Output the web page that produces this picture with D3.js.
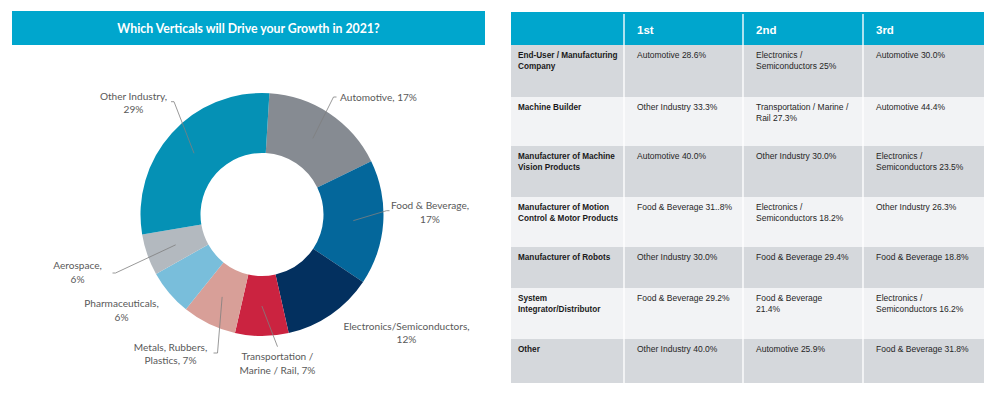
<!DOCTYPE html>
<html>
<head>
<meta charset="utf-8">
<script src="https://cdn.jsdelivr.net/npm/d3@7"></script>
<style>
	body { margin: 0; background: #fff; }
	svg { display: block; }
	.slice-label { font-family: Lato, sans-serif; font-size: 10.1px; fill: #595959; }
	.cell { font-family: 'Liberation Sans', Arial, sans-serif; font-size: 8.5px; fill: #262626; }
	.cell.first { font-weight: bold; font-size: 8.2px; fill: #1a1a1a; }
	.head { font-family: 'Liberation Sans', Arial, sans-serif; font-size: 11.5px; font-weight: bold; fill: #fff; }
</style>
</head>
<body>
<div id="graphic"></div>
<script>
// donut data (clockwise from the top)
const sliceNames = ['Automotive', 'Food & Beverage', 'Electronics/Semiconductors', 'Transportation /|Marine / Rail',
	'Metals, Rubbers,|Plastics', 'Pharmaceuticals', 'Aerospace', 'Other Industry'];
const sliceValues = [16.8, 16.6, 12.1, 7.1, 7.2, 6.1, 5.5, 28.6];
const sliceColours = ['#868b92', '#04679b', '#03305f', '#cb2340', '#d89f98', '#79bedb', '#b3b9bf', '#0591b5'];

// table data
const tableHeaders = ['', '1st', '2nd', '3rd'];
const rowNames = ['End-User / Manufacturing|Company', 'Machine Builder', 'Manufacturer of Machine|Vision Products',
	'Manufacturer of Motion|Control & Motor Products', 'Manufacturer of Robots', 'System|Integrator/Distributor', 'Other'];
const firstChoice = ['Automotive 28.6%', 'Other Industry 33.3%', 'Automotive 40.0%', 'Food & Beverage 31..8%',
	'Other Industry 30.0%', 'Food & Beverage 29.2%', 'Other Industry 40.0%'];
const secondChoice = ['Electronics /|Semiconductors 25%', 'Transportation / Marine /|Rail 27.3%', 'Other Industry 30.0%',
	'Electronics /|Semiconductors 18.2%', 'Food & Beverage 29.4%', 'Food & Beverage|21.4%', 'Automotive 25.9%'];
const thirdChoice = ['Automotive 30.0%', 'Automotive 44.4%', 'Electronics /|Semiconductors 23.5%', 'Other Industry 26.3%',
	'Food & Beverage 18.8%', 'Electronics /|Semiconductors 16.2%', 'Food & Beverage 31.8%'];

// layout
const width = 1000, height = 398;
const centre = { x: 262, y: 214.5 };
const outerR = 121.5, innerR = 61.5;
const firstAngle = 3.5 * Math.PI / 180;
const pctOnNewLine = [false, true, true, false, false, true, true, true];
// label block centre and leader end, relative to donut centre
const labelOffsets = [[116.5, -117.5], [168, -2], [144.5, 118.5], [15.5, 149], [-91.5, 139.5], [-140.5, 96], [-184.5, 58], [-128.5, -111.8]];
const leaderEnds = [[71.5, -117.5, 3], [124.5, -3.8, 3], null, [15.5, 132.2, 0], [-44.5, 138.5, -4], null, [-146.5, 58.5, -3], [-88, -112.8, -3]];
const colEdges = [511, 624, 743, 863, 984];
const headTop = 12, headHeight = 33;
const rowHeights = [52, 49, 51, 50, 41, 51, 44];

const svg = d3.select('#graphic')
	.append('svg')
	.attr('width', width)
	.attr('height', height);

// ---- title bar
svg.append('rect')
	.attr('x', 12).attr('y', 11)
	.attr('width', 473).attr('height', 34)
	.attr('fill', '#00a6cd');

svg.append('text')
	.attr('x', 248.5).attr('y', 32.5)
	.attr('text-anchor', 'middle')
	.attr('fill', '#fff')
	.style('font-family', 'Lato, sans-serif')
	.style('font-size', '12.3px')
	.style('font-weight', 'bold')
	.text('Which Verticals will Drive your Growth in 2021?');

// ---- donut
const pie = d3.pie()
	.sort(null)
	.value(d => d)
	.startAngle(firstAngle)
	.endAngle(firstAngle + 2 * Math.PI);

const arc = d3.arc().innerRadius(innerR).outerRadius(outerR);
const midArc = d3.arc().innerRadius((innerR + outerR) / 2).outerRadius((innerR + outerR) / 2);

const donut = svg.append('g')
	.attr('transform', 'translate(' + centre.x + ',' + centre.y + ')');

const arcs = pie(sliceValues);

donut.selectAll('path.slice')
	.data(arcs)
	.join('path')
	.attr('class', 'slice')
	.attr('d', arc)
	.attr('fill', (d, i) => sliceColours[i]);

// leader lines
donut.selectAll('path.leader')
	.data(arcs.filter((d, i) => leaderEnds[i]))
	.join('path')
	.attr('class', 'leader')
	.attr('fill', 'none')
	.attr('stroke', '#7f7f7f')
	.attr('stroke-width', 0.8)
	.attr('d', d => {
		let e = leaderEnds[d.index];
		let c = midArc.centroid(d);
		return 'M' + c[0] + ',' + c[1] + 'L' + e[0] + ',' + e[1] + 'l' + e[2] + ',0';
	});

// labels
donut.selectAll('text.slice-label')
	.data(arcs)
	.join('text')
	.attr('class', 'slice-label')
	.attr('text-anchor', 'middle')
	.each(function (d, i) {
		let pct = Math.round(d.value) + '%';
		let label = sliceNames[i] + ',' + (pctOnNewLine[i] ? '|' : ' ') + pct;
		let lines = label.split('|');
		let off = labelOffsets[i];
		let t = d3.select(this);
		lines.forEach((l, j) => {
			t.append('tspan')
				.attr('x', off[0])
				.attr('y', off[1] + 3.6 + (j - (lines.length - 1) / 2) * 13.3)
				.text(l);
		});
	});

// ---- table
const rowTops = [headTop + headHeight];
rowHeights.forEach((h, i) => rowTops.push(rowTops[i] + h));

const table = svg.append('g').attr('class', 'table');

table.append('rect')
	.attr('x', colEdges[0]).attr('y', headTop)
	.attr('width', colEdges[4] - colEdges[0]).attr('height', headHeight)
	.attr('fill', '#00a6cd');

table.selectAll('rect.row')
	.data(rowHeights)
	.join('rect')
	.attr('class', 'row')
	.attr('x', colEdges[0])
	.attr('y', (d, i) => rowTops[i])
	.attr('width', colEdges[4] - colEdges[0])
	.attr('height', d => d)
	.attr('fill', (d, i) => i % 2 == 0 ? '#d5d8dc' : '#f2f3f5');

// column separators
table.selectAll('line.sep')
	.data(colEdges.slice(1, 4))
	.join('line')
	.attr('class', 'sep')
	.attr('x1', d => d).attr('x2', d => d)
	.attr('y1', headTop + 2).attr('y2', rowTops[rowTops.length - 1])
	.attr('stroke', '#fff')
	.attr('stroke-opacity', 0.85)
	.attr('stroke-width', 1.6);

table.selectAll('text.head')
	.data(tableHeaders)
	.join('text')
	.attr('class', 'head')
	.attr('x', (d, i) => colEdges[i] + 13)
	.attr('y', headTop + 21.5)
	.text(d => d);

const columns = [rowNames, firstChoice, secondChoice, thirdChoice];
columns.forEach((col, c) => {
	table.selectAll('text.col' + c)
		.data(col)
		.join('text')
		.attr('class', 'cell col' + c + (c == 0 ? ' first' : ''))
		.each(function (d, r) {
			let t = d3.select(this);
			d.split('|').forEach((l, j) => {
				t.append('tspan')
					.attr('x', colEdges[c] + (c == 0 ? 7 : 13))
					.attr('y', rowTops[r] + 13 + j * 11)
					.text(l);
			});
		});
});
</script>
</body>
</html>
